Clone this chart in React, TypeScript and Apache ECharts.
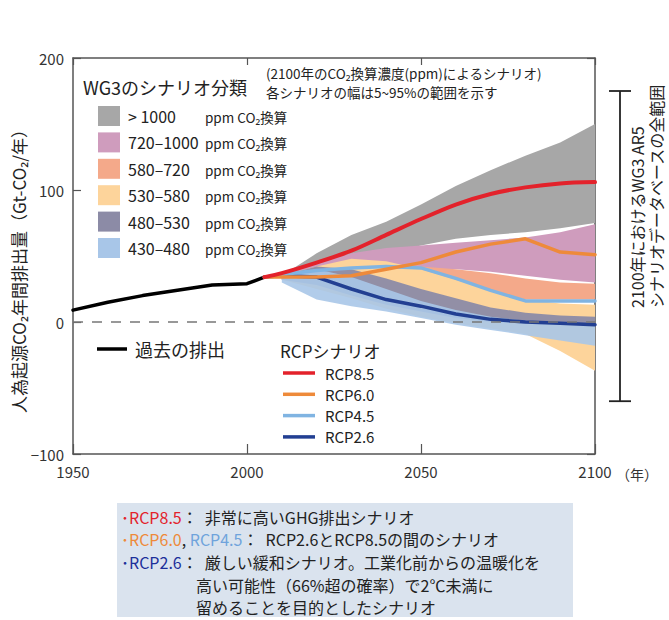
import React, { useEffect, useRef } from 'react';
import * as echarts from 'echarts';

const FONT = '"Noto Sans CJK JP", "Noto Sans", sans-serif';

// Historical emissions (Gt-CO2/yr)
const HIST_YEARS = [1950, 1960, 1970, 1980, 1990, 2000, 2005];
const HIST_VALUES = [9, 15, 20, 24, 28, 29, 34];

// RCP pathways
const RCP_YEARS = [2005, 2010, 2020, 2030, 2040, 2050, 2060, 2070, 2080, 2090, 2100];
const RCP85 = [34, 37, 45, 54, 66, 78, 89, 97, 102, 105, 106];
const RCP60 = [34, 34, 34, 35, 40, 45, 53, 59, 63, 53, 51];
const RCP45 = [34, 36, 39, 41, 42, 41, 33, 24, 16, 16, 16];
const RCP26 = [34, 35, 34, 25, 17, 12, 6, 2, 0, -1, -2];

// WG3 scenario category ranges (5-95%)
const BAND_YEARS = [2010, 2020, 2030, 2040, 2050, 2060, 2070, 2080, 2090, 2100];
const GT1000_HI = [35, 52, 66, 76, 89, 103, 115, 126, 136, 150];
const GT1000_LO = [33, 40, 46, 52, 58, 63, 66, 68, 71, 75];
const C720_HI = [35, 45, 52, 56, 58, 60, 62, 64, 68, 74];
const C720_LO = [33, 36, 38, 39, 40, 40, 38, 35, 32, 30];
const C580_HI = [34, 40, 44, 44, 42, 40, 37, 33, 30, 29];
const C580_LO = [32, 33, 31, 28, 24, 20, 18, 17, 17, 17];
const C530_HI = [35, 42, 48, 46, 40, 32, 24, 17, 14, 13];
const C530_LO = [32, 25, 18, 10, 4, -1, -5, -9, -22, -37];
const C480_HI = [35, 42, 40, 33, 25, 18, 11, 7, 5, 4];
const C480_LO = [32, 28, 20, 13, 8, 3, 0, -1, -2, -2];
const C430_HI = [35, 40, 34, 25, 16, 9, 4, 1, -1, -2];
const C430_LO = [30, 17, 12, 8, 3, -2, -6, -10, -14, -18];

// Full range of AR5 database in 2100
const RANGE_2100 = [-60, 175];

const X_TICKS = [1950, 2000, 2050, 2100];
const Y_TICKS = [-100, 0, 100, 200];

const LEGEND_LABELS = ['> 1000', '720–1000', '580–720', '530–580', '480–530', '430–480'];
const LEGEND_COLORS = ['#a7a7a7', '#cf9cbd', '#f4a98a', '#fdd49b', '#8c8ba6', '#a8c6e8'];

const RCP_NAMES = ['RCP8.5', 'RCP6.0', 'RCP4.5', 'RCP2.6'];
const RCP_COLORS = ['#e3222b', '#ee8a3a', '#80b4e2', '#223f92'];

function bandSeries(name: string, color: string, lo: number[], hi: number[], opacity: number) {
  return {
    type: 'custom',
    name,
    z: 1,
    silent: true,
    data: BAND_YEARS.map((y, i) => [y, lo[i], hi[i]]),
    encode: { x: 0, y: [1, 2] },
    renderItem: (params: any, api: any) => {
      if (params.dataIndex !== 0) return null;
      const top = BAND_YEARS.map((y, i) => api.coord([y, hi[i]]));
      const bot = BAND_YEARS.map((y, i) => api.coord([y, lo[i]])).reverse();
      return {
        type: 'polygon',
        shape: { points: top.concat(bot) },
        style: { fill: color, opacity },
      };
    },
  };
}

function lineSeries(name: string, color: string, years: number[], vals: number[], width: number, smooth: number) {
  return {
    type: 'line',
    name,
    z: 4,
    silent: true,
    symbol: 'none',
    smooth,
    data: years.map((y, i) => [y, vals[i]]),
    lineStyle: { color, width, cap: 'round', join: 'round' },
  };
}

export default function App() {
  const ref = useRef<HTMLDivElement>(null);
  useEffect(() => {
    if (!ref.current) return;
    const chart = echarts.init(ref.current, null, { renderer: 'svg' });

    const axisColor = '#555';
    const graphic: any[] = [];

    // Legend title & annotations
    graphic.push({
      type: 'text', x: 83, y: 87,
      style: { text: 'WG3のシナリオ分類', fontSize: 18, fontFamily: FONT, fill: '#222', textVerticalAlign: 'middle' },
    });
    graphic.push({
      type: 'text', x: 266, y: 72.5,
      style: { text: '(2100年のCO₂換算濃度(ppm)によるシナリオ)', fontSize: 13.5, fontFamily: FONT, fill: '#222', textVerticalAlign: 'middle' },
    });
    graphic.push({
      type: 'text', x: 266, y: 91.5,
      style: { text: '各シナリオの幅は5~95%の範囲を示す', fontSize: 13.5, fontFamily: FONT, fill: '#222', textVerticalAlign: 'middle' },
    });
    LEGEND_LABELS.forEach((lab, i) => {
      const cy = 116 + i * 26.4;
      graphic.push({ type: 'rect', shape: { x: 98, y: cy - 10, width: 22, height: 20 }, style: { fill: LEGEND_COLORS[i] } });
      graphic.push({
        type: 'text', x: 128, y: cy,
        style: { text: lab, fontSize: 16, fontFamily: FONT, fill: '#222', textVerticalAlign: 'middle' },
      });
      graphic.push({
        type: 'text', x: 205, y: cy + 1,
        style: { text: 'ppm CO₂換算', fontSize: 13.5, fontFamily: FONT, fill: '#222', textVerticalAlign: 'middle' },
      });
    });

    // Historical legend
    graphic.push({ type: 'line', shape: { x1: 97, y1: 349, x2: 127, y2: 349 }, style: { stroke: '#000', lineWidth: 3.5 } });
    graphic.push({
      type: 'text', x: 135, y: 349,
      style: { text: '過去の排出', fontSize: 18, fontFamily: FONT, fill: '#222', textVerticalAlign: 'middle' },
    });
    // RCP legend
    graphic.push({
      type: 'text', x: 280, y: 350,
      style: { text: 'RCPシナリオ', fontSize: 17, fontFamily: FONT, fill: '#222', textVerticalAlign: 'middle' },
    });
    RCP_NAMES.forEach((n, i) => {
      const cy = 373 + i * 21.3;
      graphic.push({ type: 'line', shape: { x1: 283, y1: cy, x2: 315, y2: cy }, style: { stroke: RCP_COLORS[i], lineWidth: 3.5 } });
      graphic.push({
        type: 'text', x: 325, y: cy,
        style: { text: n, fontSize: 15, fontFamily: FONT, fill: '#222', textVerticalAlign: 'middle' },
      });
    });

    // Y axis title
    graphic.push({
      type: 'text', x: 18, y: 267, rotation: Math.PI / 2,
      style: { text: '人為起源CO₂年間排出量（Gt-CO₂/年）', fontSize: 17, fontFamily: FONT, fill: '#222', textAlign: 'center', textVerticalAlign: 'middle' },
    });
    // x unit
    graphic.push({
      type: 'text', x: 616, y: 474,
      style: { text: '（年）', fontSize: 14, fontFamily: FONT, fill: '#333', textVerticalAlign: 'middle' },
    });
    // Right vertical text
    graphic.push({
      type: 'text', x: 637, y: 308, rotation: Math.PI / 2,
      style: { text: '2100年におけるWG3 AR5', fontSize: 16, fontFamily: FONT, fill: '#222', textAlign: 'left', textVerticalAlign: 'middle' },
    });
    graphic.push({
      type: 'text', x: 656, y: 308, rotation: Math.PI / 2,
      style: { text: 'シナリオデータベースの全範囲', fontSize: 16, fontFamily: FONT, fill: '#222', textAlign: 'left', textVerticalAlign: 'middle' },
    });

    // Bottom box
    graphic.push({ type: 'rect', shape: { x: 117, y: 503, width: 456, height: 114 }, style: { fill: '#dae3ee' } });
    const rich = {
      r: { fill: '#e3222b', fontSize: 16, fontFamily: FONT },
      o: { fill: '#ee8a3a', fontSize: 16, fontFamily: FONT },
      b: { fill: '#6fa3dc', fontSize: 16, fontFamily: FONT },
      n: { fill: '#1c2f9a', fontSize: 16, fontFamily: FONT },
    };
    const boxLines = [
      { x: 121, y: 517, t: '{r|･RCP8.5}：  非常に高いGHG排出シナリオ' },
      { x: 121, y: 539, t: '{o|･RCP6.0}, {b|RCP4.5}：  RCP2.6とRCP8.5の間のシナリオ' },
      { x: 121, y: 562, t: '{n|･RCP2.6}：  厳しい緩和シナリオ。工業化前からの温暖化を' },
      { x: 196, y: 585, t: '高い可能性（66%超の確率）で2℃未満に' },
      { x: 196, y: 607, t: '留めることを目的としたシナリオ' },
    ];
    boxLines.forEach((l) => {
      graphic.push({
        type: 'text', x: l.x, y: l.y,
        style: { text: l.t, rich, fontSize: 16, fontFamily: FONT, fill: '#222', textVerticalAlign: 'middle' },
      });
    });

    const option: any = {
      animation: false,
      backgroundColor: '#fff',
      grid: { left: 73, right: 74, top: 58, bottom: 166, containLabel: false },
      xAxis: [
        {
          type: 'value', min: X_TICKS[0], max: X_TICKS[X_TICKS.length - 1], interval: 50, position: 'bottom',
          axisLine: { show: true, onZero: false, lineStyle: { color: axisColor, width: 1.5 } },
          axisTick: { show: true, inside: true, length: 10, lineStyle: { color: axisColor, width: 1.2 } },
          axisLabel: { fontSize: 15, color: '#333', fontFamily: FONT, margin: 10, formatter: (v: number) => String(v) },
          splitLine: { show: false },
        },
        {
          type: 'value', min: X_TICKS[0], max: X_TICKS[X_TICKS.length - 1], interval: 50, position: 'top',
          axisLine: { show: true, onZero: false, lineStyle: { color: axisColor, width: 1.5 } },
          axisTick: { show: true, inside: true, length: 7, lineStyle: { color: axisColor, width: 1.2 } },
          axisLabel: { show: false },
          splitLine: { show: false },
        },
      ],
      yAxis: [
        {
          type: 'value', min: Y_TICKS[0], max: Y_TICKS[Y_TICKS.length - 1], interval: 100, position: 'left',
          axisLine: { show: true, onZero: false, lineStyle: { color: axisColor, width: 1.5 } },
          axisTick: { show: true, inside: true, length: 8, lineStyle: { color: axisColor, width: 1.2 } },
          axisLabel: {
            fontSize: 15, color: '#333', fontFamily: FONT, margin: 9,
            formatter: (v: number) => String(v).replace('-', '−'),
          },
          splitLine: { show: false },
        },
        {
          type: 'value', min: Y_TICKS[0], max: Y_TICKS[Y_TICKS.length - 1], interval: 100, position: 'right',
          axisLine: { show: true, onZero: false, lineStyle: { color: axisColor, width: 1.5 } },
          axisTick: { show: true, inside: true, length: 8, lineStyle: { color: axisColor, width: 1.2 } },
          axisLabel: { show: false },
          splitLine: { show: false },
        },
      ],
      series: [
        bandSeries('>1000', LEGEND_COLORS[0], GT1000_LO, GT1000_HI, 1),
        bandSeries('720-1000', LEGEND_COLORS[1], C720_LO, C720_HI, 1),
        bandSeries('580-720', LEGEND_COLORS[2], C580_LO, C580_HI, 1),
        bandSeries('530-580', LEGEND_COLORS[3], C530_LO, C530_HI, 1),
        bandSeries('480-530', LEGEND_COLORS[4], C480_LO, C480_HI, 0.95),
        bandSeries('430-480', LEGEND_COLORS[5], C430_LO, C430_HI, 0.9),
        {
          ...lineSeries('過去の排出', '#000', HIST_YEARS, HIST_VALUES, 3.5, 0),
          markLine: {
            silent: true,
            symbol: ['none', 'none'],
            label: { show: false },
            lineStyle: { color: '#777', width: 1.5, type: [10, 9] },
            data: [{ yAxis: 0 }],
          },
          z: 3,
        },
        lineSeries('RCP2.6', RCP_COLORS[3], RCP_YEARS, RCP26, 3.5, 0),
        lineSeries('RCP4.5', RCP_COLORS[2], RCP_YEARS, RCP45, 3.5, 0),
        lineSeries('RCP6.0', RCP_COLORS[1], RCP_YEARS, RCP60, 3.5, 0),
        lineSeries('RCP8.5', RCP_COLORS[0], RCP_YEARS, RCP85, 4, 0.3),
        {
          type: 'custom',
          name: 'range',
          silent: true,
          clip: false,
          z: 5,
          data: [[2100, RANGE_2100[0], RANGE_2100[1]]],
          encode: { x: 0, y: [1, 2] },
          renderItem: (params: any, api: any) => {
            const top = api.coord([api.value(0), api.value(2)]);
            const bot = api.coord([api.value(0), api.value(1)]);
            const x = top[0] + 25;
            const st = { stroke: '#222', lineWidth: 1.8 };
            return {
              type: 'group',
              children: [
                { type: 'line', shape: { x1: x, y1: top[1], x2: x, y2: bot[1] }, style: st },
                { type: 'line', shape: { x1: x - 11, y1: top[1], x2: x + 11, y2: top[1] }, style: st },
                { type: 'line', shape: { x1: x - 11, y1: bot[1], x2: x + 11, y2: bot[1] }, style: st },
              ],
            };
          },
        },
      ],
      graphic,
    };
    chart.setOption(option);
    return () => chart.dispose();
  }, []);
  return <div ref={ref} style={{ position: 'absolute', left: 0, top: 0, width: 669, height: 620 }} />;
}
